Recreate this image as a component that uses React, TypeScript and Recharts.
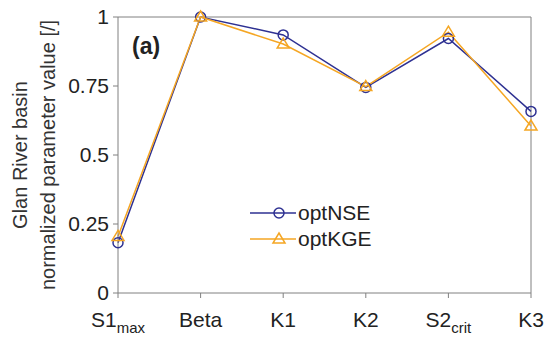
import React from 'react';
import {
    LineChart,
    Line,
    XAxis,
    YAxis,
    ReferenceLine,
    Customized,
} from 'recharts';

// parameter names, split in base + subscript
const paramBase = ['S1', 'Beta', 'K1', 'K2', 'S2', 'K3'];
const paramSub = ['max', '', '', '', 'crit', ''];

const optNSE = [0.182, 1.0, 0.935, 0.745, 0.922, 0.658];
const optKGE = [0.205, 1.0, 0.902, 0.748, 0.945, 0.605];

const yTicks = [0, 0.25, 0.5, 0.75, 1];

const NSE_COLOR = '#2e3192';
const KGE_COLOR = '#f5a623';
const AXIS_COLOR = '#808080';
const FONT = 'Liberation Sans, Arial, sans-serif';

const data = paramBase.map((b, i) => ({
    name: b + paramSub[i],
    nse: optNSE[i],
    kge: optKGE[i],
}));

const XTick = (props: any) => {
    const { x, y, payload } = props;
    const i = payload.index;
    return (
        <text x={x} y={y + 27} textAnchor="middle" fontFamily={FONT} fontSize={21} fill="#222">
            <tspan>{paramBase[i]}</tspan>
            {paramSub[i] && (
                <tspan fontSize={15} dy={6}>{paramSub[i]}</tspan>
            )}
        </text>
    );
};

const Triangle = (props: any) => {
    const { cx, cy } = props;
    if (cx == null || cy == null) return null;
    return (
        <path
            d={`M${cx},${cy - 6} L${cx + 6},${cy + 4} L${cx - 6},${cy + 4} Z`}
            fill="none"
            stroke={KGE_COLOR}
            strokeWidth={1.5}
        />
    );
};

// legend, panel label and two-line y title
const Extras = () => (
    <g fontFamily={FONT} fill="#333">
        <text x={27} y={155} fontSize={20} textAnchor="middle" transform="rotate(-90 27 155)">Glan River basin</text>
        <text x={55} y={155} fontSize={20} textAnchor="middle" transform="rotate(-90 55 155)">
            normalized parameter value [/]
        </text>
        <text x={132} y={54} fontSize={23} fontWeight="bold" fill="#222">(a)</text>
        <g transform="translate(246, 199)">
            <line x1={4} y1={14} x2={50} y2={14} stroke={NSE_COLOR} strokeWidth={1.5} />
            <circle cx={33} cy={14} r={5} fill="none" stroke={NSE_COLOR} strokeWidth={1.5} />
            <text x={52} y={21} fontSize={21} fill="#222">optNSE</text>
            <line x1={4} y1={40} x2={50} y2={40} stroke={KGE_COLOR} strokeWidth={1.5} />
            <Triangle cx={33} cy={40} />
            <text x={52} y={47} fontSize={21} fill="#222">optKGE</text>
        </g>
    </g>
);

export default function App() {
    return (
        <div style={{ position: 'absolute', left: 0, top: 0, background: '#fff' }}>
            <LineChart width={545} height={344} data={data} margin={{ top: 17, right: 14, left: 0, bottom: 11 }}>
                <XAxis
                    dataKey="name"
                    stroke={AXIS_COLOR}
                    tickLine={{ stroke: AXIS_COLOR }}
                    tickSize={5}
                    tick={<XTick />}
                    height={40}
                    interval={0}
                />
                <YAxis
                    domain={[0, 1]}
                    ticks={yTicks}
                    width={118}
                    stroke={AXIS_COLOR}
                    tickSize={5}
                    tickMargin={4}
                    tick={{ fill: '#222', fontSize: 21, fontFamily: FONT }}
                />
                <ReferenceLine y={1} stroke={AXIS_COLOR} strokeWidth={1} />
                <ReferenceLine x="K3" stroke={AXIS_COLOR} strokeWidth={1} />
                <Line
                    dataKey="nse"
                    stroke={NSE_COLOR}
                    strokeWidth={1.5}
                    dot={{ r: 5, fill: 'none', stroke: NSE_COLOR, strokeWidth: 1.5 }}
                    isAnimationActive={false}
                />
                <Line
                    dataKey="kge"
                    stroke={KGE_COLOR}
                    strokeWidth={1.5}
                    dot={<Triangle />}
                    isAnimationActive={false}
                />
                <Customized component={Extras} />
            </LineChart>
        </div>
    );
}
